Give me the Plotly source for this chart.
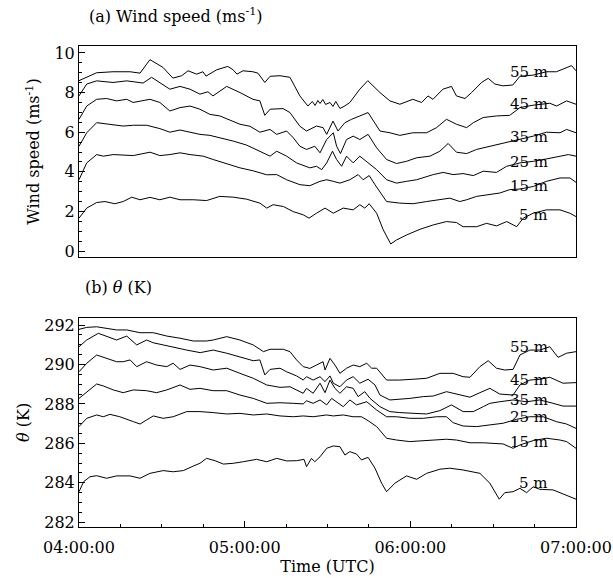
import plotly.graph_objects as go

# ---------------- data (time in minutes after 04:00:00 UTC) ----------------
heights = ["55 m", "45 m", "35 m", "25 m", "15 m", "5 m"]
x_tick_minutes = [0, 60, 120, 180]
x_tick_labels = ["04:00:00", "05:00:00", "06:00:00", "07:00:00"]

# (a) wind speed, m s-1
ws55_t = [0, 6.4, 12.3, 18.5, 22.1, 25.7, 30.4, 34.0, 37.2, 39.5, 42.6, 44.9, 46.0, 49.9, 53.9, 55.8, 57.2, 59.4, 63.0, 64.8, 67.3, 69.2, 72.8, 76.4, 80.0, 82.9, 84.5, 85.5, 86.5, 87.3, 88.3, 89.3, 90.9, 92.0, 93.0, 94.5, 96.0, 98.1, 101.7, 104.6, 109.0, 112.6, 116.2, 120.9, 124.1, 126.4, 128.2, 131.8, 134.9, 136.7, 139.8, 142.2, 145.8, 148.2, 150.6, 153.5, 157.1, 159.7, 164.4, 169.3, 172.9, 176.6, 178.4, 180]
ws55_v = [8.6, 9.0, 9.05, 9.05, 8.98, 9.66, 9.27, 8.73, 8.85, 9.1, 8.93, 9.05, 8.83, 9.15, 9.32, 9.15, 8.93, 9.1, 9.05, 8.98, 8.51, 8.82, 8.85, 8.77, 7.83, 7.32, 7.55, 7.35, 7.6, 7.45, 7.65, 7.4, 7.5, 7.3, 7.55, 7.2, 7.3, 7.5, 8.17, 8.6, 8.0, 7.58, 7.41, 7.66, 7.5, 7.83, 7.66, 8.17, 8.31, 7.83, 7.7, 8.0, 8.51, 8.72, 8.43, 8.34, 8.38, 8.82, 8.88, 9.05, 9.05, 9.27, 9.36, 9.1]

ws45_t = [0, 2.8, 6.4, 12.3, 17.3, 19.6, 23.2, 26.3, 29.3, 32.9, 36.6, 40.2, 43.8, 46.7, 48.5, 53.5, 58.3, 63.0, 65.5, 67.3, 69.2, 73.9, 76.4, 80.0, 82.4, 86.0, 88.4, 89.7, 92.0, 93.8, 96.3, 98.7, 101.7, 104.7, 109.0, 112.6, 116.2, 120.9, 125.9, 129.5, 133.1, 136.7, 140.4, 142.8, 146.4, 151.2, 156.0, 159.7, 164.4, 170.5, 173.0, 176.6, 180]
ws45_v = [7.83, 8.43, 8.59, 8.51, 8.59, 8.54, 8.48, 8.77, 8.51, 8.17, 8.31, 8.17, 7.92, 8.04, 7.83, 8.31, 8.0, 7.66, 7.58, 6.85, 7.16, 7.19, 6.99, 6.3, 6.06, 6.31, 6.23, 5.89, 6.56, 6.06, 6.48, 6.65, 6.82, 6.99, 6.06, 5.97, 5.84, 5.97, 5.97, 6.23, 6.65, 6.4, 6.23, 6.48, 6.74, 6.82, 6.85, 7.24, 7.36, 7.46, 7.32, 7.58, 7.41]

ws35_t = [0, 2.8, 6.4, 10.0, 13.6, 17.3, 19.6, 23.2, 25.7, 29.3, 32.9, 36.6, 40.2, 43.8, 47.4, 51.0, 54.7, 58.3, 61.9, 65.5, 69.2, 71.6, 75.2, 77.6, 80.0, 82.4, 85.4, 87.3, 89.7, 92.1, 93.3, 94.7, 96.9, 99.3, 101.7, 104.7, 107.8, 111.4, 115.0, 118.6, 122.3, 127.1, 130.7, 133.7, 136.7, 140.4, 144.0, 148.8, 153.6, 158.5, 164.5, 169.3, 174.2, 176.6, 180]
ws35_v = [6.65, 7.32, 7.66, 7.7, 7.58, 7.66, 7.5, 7.58, 7.66, 7.5, 7.07, 7.24, 7.32, 7.16, 6.9, 6.82, 6.6, 6.4, 6.3, 6.0, 6.14, 5.89, 6.06, 5.72, 5.29, 5.13, 5.29, 4.96, 5.63, 5.97, 5.29, 4.92, 5.63, 5.8, 5.63, 5.89, 5.21, 4.62, 4.42, 4.53, 4.71, 4.79, 5.04, 5.43, 4.99, 4.92, 5.13, 5.29, 5.47, 5.63, 5.8, 6.0, 5.97, 6.14, 5.97]

ws25_t = [0, 2.8, 6.4, 11.2, 16.0, 19.7, 24.5, 29.3, 32.9, 36.6, 40.2, 43.8, 47.4, 51.0, 55.9, 60.7, 65.5, 69.2, 71.6, 75.2, 78.8, 83.6, 86.0, 87.9, 89.7, 91.8, 93.3, 95.1, 96.9, 99.3, 101.7, 104.7, 107.8, 111.4, 115.0, 118.6, 122.3, 128.3, 131.9, 135.5, 139.1, 142.8, 146.4, 151.2, 154.9, 159.7, 164.5, 169.3, 174.2, 177.2, 180]
ws25_v = [5.29, 5.97, 6.48, 6.4, 6.31, 6.35, 6.35, 6.18, 6.0, 6.11, 6.0, 5.89, 5.84, 5.72, 5.55, 5.35, 5.05, 4.79, 5.04, 4.79, 4.45, 4.2, 4.28, 4.11, 4.45, 5.04, 4.62, 4.28, 4.79, 4.45, 4.79, 4.45, 4.11, 3.6, 3.43, 3.52, 3.6, 3.86, 3.97, 3.86, 3.91, 3.81, 4.03, 3.97, 4.28, 4.45, 4.53, 4.65, 4.79, 4.87, 4.79]

ws15_t = [0, 2.8, 6.4, 8.8, 12.4, 19.7, 25.7, 29.3, 32.9, 36.6, 40.2, 45.0, 48.6, 53.5, 58.3, 63.1, 68.0, 71.6, 75.2, 80.0, 83.6, 87.3, 89.7, 92.1, 94.5, 98.1, 101.1, 102.9, 105.1, 107.2, 111.4, 116.2, 121.0, 125.9, 130.7, 134.3, 137.9, 140.4, 144.0, 147.6, 152.4, 156.0, 159.7, 164.5, 169.3, 174.2, 177.8, 180]
ws15_v = [3.6, 4.45, 4.87, 4.79, 4.87, 4.82, 4.99, 4.82, 4.87, 4.96, 4.87, 4.79, 4.62, 4.4, 4.2, 4.05, 3.85, 3.86, 3.6, 3.35, 3.3, 3.52, 3.6, 3.52, 3.43, 3.6, 3.86, 3.6, 3.81, 3.35, 2.5, 2.42, 2.39, 2.5, 2.59, 2.67, 2.5, 2.59, 2.76, 2.84, 2.93, 3.1, 3.13, 3.26, 3.52, 3.69, 3.69, 3.47]

ws5_t = [0, 2.8, 6.4, 9.4, 13.0, 16.0, 19.1, 22.1, 25.7, 29.3, 32.9, 36.6, 41.4, 46.2, 51.0, 55.9, 60.7, 65.5, 68.0, 70.3, 74.0, 77.6, 81.2, 83.3, 86.0, 89.1, 92.1, 95.7, 99.3, 101.7, 103.5, 105.1, 107.8, 110.2, 112.9, 115.0, 118.6, 123.5, 128.3, 133.1, 136.7, 139.1, 144.0, 147.6, 151.2, 154.9, 158.5, 160.9, 164.5, 169.3, 174.2, 177.8, 180]
ws5_v = [1.66, 2.17, 2.45, 2.5, 2.39, 2.5, 2.72, 2.59, 2.71, 2.59, 2.72, 2.59, 2.59, 2.55, 2.76, 2.72, 2.62, 2.42, 2.17, 2.34, 2.25, 1.99, 1.83, 1.66, 1.91, 2.17, 1.91, 2.17, 2.08, 2.34, 2.17, 2.39, 1.91, 1.07, 0.36, 0.56, 0.81, 1.1, 1.32, 1.49, 1.44, 1.23, 1.23, 1.4, 1.27, 1.49, 1.23, 1.66, 1.91, 2.08, 2.08, 1.91, 1.74]

# (b) potential temperature, K
th55_t = [0, 2.8, 6.4, 10.0, 13.6, 17.3, 22.1, 26.9, 31.8, 36.6, 41.4, 46.2, 48.6, 53.5, 58.3, 63.1, 66.8, 69.2, 74.0, 76.4, 78.8, 81.2, 83.6, 86.0, 88.4, 89.1, 90.9, 92.7, 94.5, 96.9, 99.3, 101.7, 104.2, 106.0, 107.8, 111.4, 116.2, 121.0, 125.9, 130.7, 135.5, 139.1, 141.6, 145.2, 148.2, 151.2, 154.2, 157.2, 159.7, 163.3, 166.9, 170.5, 173.5, 176.6, 180]
th55_v = [291.78, 291.88, 291.91, 291.83, 291.75, 291.75, 291.61, 291.61, 291.44, 291.33, 291.19, 291.19, 291.24, 291.41, 291.24, 290.99, 290.65, 290.77, 290.77, 290.65, 290.23, 289.89, 289.8, 289.97, 290.14, 289.72, 290.31, 289.97, 289.55, 289.81, 289.97, 289.89, 290.06, 289.81, 289.81, 289.21, 289.21, 289.25, 289.3, 289.55, 289.55, 289.38, 289.35, 289.89, 290.19, 289.81, 289.72, 289.75, 290.48, 290.73, 290.73, 290.9, 290.36, 290.57, 290.65]

th45_t = [0, 2.8, 7.0, 10.0, 13.6, 17.3, 20.9, 24.5, 26.9, 30.5, 35.4, 39.0, 43.9, 48.6, 53.5, 58.3, 63.1, 65.5, 67.3, 69.2, 72.8, 75.2, 78.8, 81.2, 82.4, 84.8, 87.3, 89.1, 90.9, 92.1, 94.5, 96.9, 99.3, 101.7, 104.7, 107.2, 109.0, 112.6, 116.2, 119.8, 124.7, 128.3, 133.1, 136.7, 141.6, 145.2, 148.8, 152.4, 157.2, 159.7, 163.3, 166.9, 170.5, 175.3, 180]
th45_v = [290.9, 291.24, 291.58, 291.44, 291.24, 291.44, 290.99, 291.24, 291.1, 290.99, 290.82, 290.73, 290.6, 290.73, 290.57, 290.39, 290.19, 290.23, 289.47, 289.75, 289.81, 289.63, 289.42, 289.21, 289.38, 289.21, 289.38, 289.13, 289.42, 289.05, 288.87, 289.21, 289.38, 289.05, 289.25, 288.96, 288.45, 288.2, 288.23, 288.28, 288.37, 288.4, 288.62, 288.5, 288.34, 288.57, 288.79, 288.5, 288.45, 288.96, 289.21, 289.25, 289.35, 289.05, 289.08]

th35_t = [0, 2.8, 6.4, 8.8, 11.2, 13.6, 16.0, 18.5, 20.9, 24.5, 28.1, 31.8, 34.1, 36.6, 40.2, 43.8, 48.6, 53.5, 58.3, 63.1, 68.0, 72.8, 76.4, 78.8, 81.2, 82.4, 84.8, 87.3, 89.1, 90.9, 92.7, 94.5, 96.9, 99.3, 101.1, 103.5, 105.4, 109.0, 112.6, 116.2, 121.0, 125.9, 130.7, 134.9, 139.1, 142.8, 146.4, 148.8, 152.4, 157.2, 162.1, 166.9, 171.7, 175.3, 180]
th35_v = [289.63, 290.06, 290.48, 290.36, 290.26, 290.14, 290.14, 290.23, 289.89, 290.14, 289.97, 289.89, 290.06, 289.75, 289.97, 289.89, 289.72, 289.81, 289.55, 289.3, 288.96, 288.84, 288.87, 288.71, 288.54, 288.79, 288.54, 289.05, 288.57, 289.21, 288.79, 288.54, 288.87, 288.79, 288.37, 288.62, 288.28, 287.86, 287.61, 287.56, 287.52, 287.49, 287.66, 287.95, 287.61, 287.61, 287.86, 288.03, 288.11, 288.2, 288.11, 288.2, 288.03, 287.89, 287.89]

th25_t = [0, 2.8, 6.4, 8.8, 12.4, 16.0, 19.7, 24.5, 28.1, 31.8, 36.6, 40.2, 43.8, 48.6, 53.5, 58.3, 63.1, 68.0, 72.8, 77.6, 81.2, 82.4, 84.8, 87.3, 89.7, 91.5, 93.3, 95.7, 98.1, 100.5, 104.2, 107.8, 111.4, 115.0, 119.8, 124.7, 129.5, 133.1, 135.5, 139.1, 144.0, 148.8, 153.6, 158.5, 163.3, 168.1, 172.9, 176.6, 180]
th25_v = [288.28, 288.62, 289.01, 288.91, 288.71, 288.57, 288.71, 288.67, 288.57, 288.71, 288.96, 288.74, 288.79, 288.67, 288.67, 288.45, 288.28, 288.03, 288.06, 288.03, 288.0, 288.16, 288.03, 288.2, 287.95, 288.28, 288.11, 287.86, 288.2, 287.95, 288.11, 287.69, 287.35, 287.35, 287.27, 287.27, 287.35, 287.35, 287.05, 286.88, 286.85, 286.93, 287.02, 287.22, 287.35, 287.35, 287.1, 286.98, 286.76]

th15_t = [0, 2.8, 6.4, 8.8, 11.2, 14.8, 19.7, 22.1, 24.5, 26.9, 30.5, 34.1, 39.0, 43.8, 48.6, 53.5, 58.3, 63.1, 68.0, 72.8, 77.6, 81.2, 84.8, 89.7, 92.1, 95.7, 99.3, 102.3, 104.7, 107.8, 111.4, 115.0, 119.8, 124.7, 129.5, 133.1, 136.7, 141.6, 146.4, 150.0, 153.6, 157.2, 159.7, 164.5, 169.3, 174.2, 176.6, 180]
th15_v = [286.85, 287.27, 287.44, 287.35, 287.47, 287.35, 287.1, 286.98, 287.19, 287.39, 287.27, 287.35, 287.61, 287.61, 287.56, 287.49, 287.52, 287.44, 287.49, 287.39, 287.35, 287.39, 287.35, 287.44, 287.39, 287.44, 287.35, 287.35, 287.15, 286.85, 286.26, 286.17, 286.09, 286.14, 286.17, 286.21, 286.17, 286.03, 286.03, 286.0, 285.97, 285.75, 285.92, 286.14, 286.26, 286.17, 286.09, 285.75]

th5_t = [0, 1.7, 4.0, 6.4, 10.0, 13.6, 18.5, 22.1, 25.7, 30.5, 34.1, 37.8, 41.4, 43.8, 46.2, 49.3, 52.3, 55.9, 59.5, 64.3, 68.0, 71.6, 75.2, 78.8, 81.5, 82.4, 84.2, 85.4, 87.3, 89.7, 92.1, 94.5, 96.3, 98.1, 100.5, 102.3, 104.7, 107.2, 109.6, 111.4, 114.4, 118.6, 122.3, 125.9, 130.7, 134.3, 139.1, 145.2, 148.8, 152.2, 154.2, 157.2, 159.7, 162.1, 164.5, 166.9, 171.7, 176.6, 180]
th5_v = [283.55, 284.06, 284.31, 284.36, 284.23, 284.35, 284.35, 284.23, 284.48, 284.62, 284.56, 284.62, 284.85, 284.99, 285.24, 285.12, 284.95, 284.99, 285.07, 285.19, 285.07, 285.24, 285.11, 285.12, 285.19, 284.82, 285.24, 285.07, 285.32, 285.75, 285.87, 285.83, 285.41, 285.58, 285.46, 285.16, 285.29, 284.74, 283.98, 283.55, 283.98, 284.35, 284.18, 284.48, 284.69, 284.74, 284.65, 284.48, 283.98, 283.17, 283.5, 283.55, 283.72, 283.5, 283.8, 283.67, 283.64, 283.38, 283.17]

# label anchor values for each height (data units)
ws_label_y = [9.04, 7.41, 5.74, 4.52, 3.30, 1.83]
th_label_y = [290.9, 289.21, 288.19, 287.33, 286.08, 283.99]
label_t = 170.5

ws_series = [(ws55_t, ws55_v), (ws45_t, ws45_v), (ws35_t, ws35_v),
             (ws25_t, ws25_v), (ws15_t, ws15_v), (ws5_t, ws5_v)]
th_series = [(th55_t, th55_v), (th45_t, th45_v), (th35_t, th35_v),
             (th25_t, th25_v), (th15_t, th15_v), (th5_t, th5_v)]

# ---------------- figure ----------------
FONT = "DejaVu Serif"
fig = go.Figure()
line = dict(color="black", width=1)

for name, (t, v) in zip(heights, ws_series):
    fig.add_trace(go.Scatter(x=t, y=v, mode="lines", line=line, name=name,
                             xaxis="x", yaxis="y", showlegend=False))
for name, (t, v) in zip(heights, th_series):
    fig.add_trace(go.Scatter(x=t, y=v, mode="lines", line=line, name=name,
                             xaxis="x2", yaxis="y2", showlegend=False))

annotations = []
for name, yv in zip(heights, ws_label_y):
    annotations.append(dict(x=label_t, y=yv, xref="x", yref="y", text=name,
                            showarrow=False, xanchor="right", yanchor="middle",
                            font=dict(family=FONT, size=15, color="black")))
for name, yv in zip(heights, th_label_y):
    annotations.append(dict(x=label_t, y=yv, xref="x2", yref="y2", text=name,
                            showarrow=False, xanchor="right", yanchor="middle",
                            font=dict(family=FONT, size=15, color="black")))
annotations.append(dict(x=0.016, y=1.064, xref="paper", yref="paper",
                        text="(a) Wind speed (ms<sup>-1</sup>)", showarrow=False,
                        xanchor="left", yanchor="middle",
                        font=dict(family=FONT, size=16, color="black")))
annotations.append(dict(x=0.008, y=0.497, xref="paper", yref="paper",
                        text="(b) <i>θ</i> (K)", showarrow=False,
                        xanchor="left", yanchor="middle",
                        font=dict(family=FONT, size=16, color="black")))

axis_common = dict(showgrid=False, zeroline=False, showline=True, linecolor="black",
                   linewidth=1, mirror=True, automargin=False,
                   tickfont=dict(family=FONT, size=16, color="black"))

fig.update_layout(
    width=613, height=578,
    margin=dict(l=79, r=37, t=46, b=51, autoexpand=False),
    paper_bgcolor="white", plot_bgcolor="white",
    font=dict(family=FONT, size=16, color="black"),
    annotations=annotations,
    xaxis=dict(domain=[0, 1], anchor="y", range=[0, 180], showticklabels=False,
               ticks="", **axis_common),
    yaxis=dict(domain=[0.5613, 1.0], anchor="x", range=[-0.3, 10.35],
               tickvals=[0, 2, 4, 6, 8, 10], ticks="inside", ticklen=6,
               tickcolor="black",
               minor=dict(ticks="inside", ticklen=3, tickmode="linear", dtick=0.5,
                          tick0=0, tickcolor="black"),
               title=dict(text="Wind speed (ms<sup>-1</sup>)", standoff=10,
                          font=dict(family=FONT, size=16, color="black")),
               **axis_common),
    xaxis2=dict(domain=[0, 1], anchor="y2", range=[0, 180],
                tickvals=x_tick_minutes, ticktext=x_tick_labels,
                ticks="inside", ticklen=6, tickcolor="black",
                minor=dict(ticks="inside", ticklen=3, tickmode="linear", tick0=0,
                           dtick=15, tickcolor="black"),
                ticklabelstandoff=6,
                title=dict(text="Time (UTC)", standoff=4,
                           font=dict(family=FONT, size=16, color="black")),
                **axis_common),
    yaxis2=dict(domain=[0, 0.4351], anchor="x2", range=[281.76, 292.37],
                tickvals=[282, 284, 286, 288, 290, 292], ticks="inside", ticklen=6,
                tickcolor="black",
                minor=dict(ticks="inside", ticklen=3, tickmode="linear", dtick=0.5,
                           tick0=282, tickcolor="black"),
                title=dict(text="<i>θ</i> (K)", standoff=10,
                           font=dict(family=FONT, size=16, color="black")),
                **axis_common),
)

fig.write_html("out.html")
